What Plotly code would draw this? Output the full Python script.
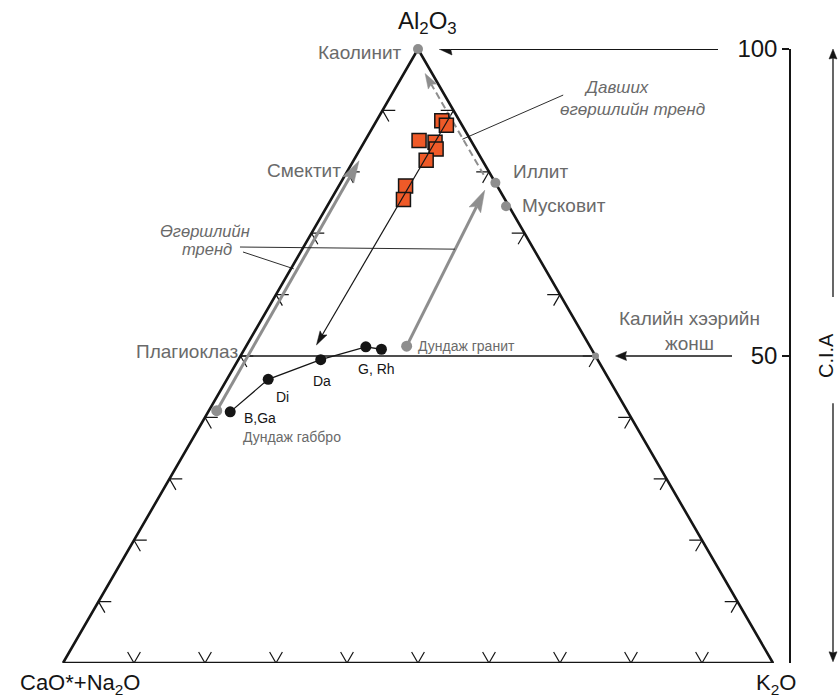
import math
import plotly.graph_objects as go

# ---------------------------------------------------------------------------
# A-CN-K compositions, molar %  (A = Al2O3, K = K2O, CN = CaO*+Na2O = 100-A-K)
# ---------------------------------------------------------------------------
sample_A = [88.3, 87.6, 85.1, 84.8, 83.7, 81.9, 77.7, 75.5]
sample_K = [9.2, 10.2, 7.6, 10.0, 10.7, 10.2, 9.4, 10.2]

rock_names = ["B,Ga", "Di", "Da", "G", "Rh"]
rock_A = [40.9, 46.2, 49.4, 51.5, 51.1]
rock_K = [3.1, 5.8, 11.6, 16.9, 19.3]

mineral_names = ["Каолинит", "Иллит", "Мусковит", "Калийн хээрийн<br>жонш", "Плагиоклаз"]
mineral_A = [100.0, 78.2, 74.4, 50.0, 50.0]
mineral_K = [0.0, 21.8, 25.2, 50.0, 0.0]

granite_A, granite_K = 51.6, 22.6
gabbro_A, gabbro_K = 41.1, 1.1

# weathering trends: (A, K) start -> (A, K) end
smectite_trend = [(41.1, 1.1), (81.8, 0.8)]
illite_trend = [(51.6, 22.6), (77.0, 20.9)]
advanced_trend = [(79.5, 19.5), (96.0, 3.0)]
sample_trend = [(89.0, 10.0), (51.8, 9.8)]

tick_steps = [10, 20, 30, 40, 50, 60, 70, 80, 90]
cia_ticks = [50, 100]

# ---------------------------------------------------------------------------
# page geometry
# ---------------------------------------------------------------------------
W, H = 838, 698
SIDE = 710          # triangle side in px
LEFT = 63           # left vertex, px from page edge
TOP, BOTTOM = 49, 35
SX = SIDE / 100.0
SY = (H - TOP - BOTTOM) / 100.0

BLACK = "#151515"
GRAY = "#8e8e8e"
TXT_GRAY = "#6a6a6a"
RED = "#EF5A28"
FONT = "Liberation Sans, Arial, sans-serif"


def xy(a, k):
    """ternary (A, K) -> plane coordinates (x, y)"""
    return k + a / 2.0, a


def xys(As, Ks):
    pts = [xy(a, k) for a, k in zip(As, Ks)]
    return [p[0] for p in pts], [p[1] for p in pts]


fig = go.Figure()


def line(xs, ys, color=BLACK, width=1.2, dash=None):
    fig.add_trace(go.Scatter(x=xs, y=ys, mode="lines",
                             line=dict(color=color, width=width, dash=dash),
                             hoverinfo="skip", showlegend=False, cliponaxis=False))


def arrow(tail, tip, color, width, head_len, head_w, dash=None, notch=0.18):
    """shaft plus filled head; tail/tip given in plane coordinates"""
    (sx, sy), (tx, ty) = tail, tip
    dx, dy = (tx - sx) * SX, (ty - sy) * SY
    n = math.hypot(dx, dy)
    ux, uy = dx / n, dy / n
    px, py = -uy, ux

    def back(along, side):
        return (tx + (-ux * along + px * side) / SX,
                ty + (-uy * along + py * side) / SY)

    p1 = back(head_len, head_w / 2)
    p2 = back(head_len * (1 - notch), 0)
    p3 = back(head_len, -head_w / 2)
    line([sx, p2[0]], [sy, p2[1]], color=color, width=width, dash=dash)
    fig.add_trace(go.Scatter(x=[tx, p1[0], p2[0], p3[0], tx],
                             y=[ty, p1[1], p2[1], p3[1], ty],
                             mode="lines", fill="toself", fillcolor=color,
                             line=dict(color=color, width=0.5),
                             hoverinfo="skip", showlegend=False, cliponaxis=False))


def tern_arrow(trend, **kw):
    (a0, k0), (a1, k1) = trend
    arrow(xy(a0, k0), xy(a1, k1), **kw)


# ---- triangle frame -------------------------------------------------------
fx, fy = xys([0, 100, 0, 0], [0, 0, 100, 0])
line(fx, fy, width=2.6)

# ---- chevron ticks on the three sides ------------------------------------
L = 1.8
cx, cy = [], []
for t in tick_steps:
    # left side (K = 0): arms along A-constant and CN-constant directions
    for a, k in [(t, L), (t, 0), (t - L, L)]:
        x, y = xy(a, k); cx.append(x); cy.append(y)
    cx.append(None); cy.append(None)
    # right side (CN = 0)
    for a, k in [(t, 100 - t - L), (t, 100 - t), (t - L, 100 - t)]:
        x, y = xy(a, k); cx.append(x); cy.append(y)
    cx.append(None); cy.append(None)
    # base (A = 0)
    for a, k in [(L, t), (0, t), (L, t - L)]:
        x, y = xy(a, k); cx.append(x); cy.append(y)
    cx.append(None); cy.append(None)
line(cx, cy, width=1.2)

# ---- plagioclase - K-feldspar join (CIA = 50) ----------------------------
jx, jy = xys([mineral_A[4], mineral_A[3]], [mineral_K[4], mineral_K[3]])
line(jx, jy, width=1.5)

# ---- weathering trends ----------------------------------------------------
tern_arrow(smectite_trend, color=GRAY, width=3, head_len=22, head_w=13)
tern_arrow(illite_trend, color=GRAY, width=3, head_len=22, head_w=13)
tern_arrow(advanced_trend, color=GRAY, width=2, head_len=15, head_w=10, dash="7px,4px")

# leader lines for the trend captions
lead_trend_1 = [(67.75, -8.95), (67.4, 21.5)]
lead_trend_2 = [(66.94, -8.12), (64.2, 0.4)]
lead_adv = [(92.5, 24.2), (85.3, 13.6)]
for (a0, k0), (a1, k1) in [lead_trend_1, lead_trend_2, lead_adv]:
    (x0, y0), (x1, y1) = xy(a0, k0), xy(a1, k1)
    line([x0, x1], [y0, y1], width=0.9)

# ---- igneous rocks --------------------------------------------------------
rx, ry = xys(rock_A, rock_K)
line(rx, ry, width=1.3)

# ---- reference minerals and averages (grey dots) -------------------------
mx, my = xys(mineral_A[:3], mineral_K[:3])
fig.add_trace(go.Scatter(x=mx, y=my, mode="markers",
                         marker=dict(size=10, color=GRAY),
                         hoverinfo="skip", showlegend=False, cliponaxis=False))
kx, ky = xy(mineral_A[3], mineral_K[3])
gx, gy = xy(granite_A, granite_K)
bx, by = xy(gabbro_A, gabbro_K)
fig.add_trace(go.Scatter(x=[gx, bx], y=[gy, by], mode="markers",
                         marker=dict(size=11, color=GRAY),
                         hoverinfo="skip", showlegend=False, cliponaxis=False))
fig.add_trace(go.Scatter(x=[kx], y=[ky], mode="markers",
                         marker=dict(size=7, color=GRAY),
                         hoverinfo="skip", showlegend=False, cliponaxis=False))

fig.add_trace(go.Scatter(x=rx, y=ry, mode="markers",
                         marker=dict(size=11, color=BLACK),
                         hoverinfo="skip", showlegend=False, cliponaxis=False))

# ---- studied samples -----------------------------------------------------
sx_, sy_ = xys(sample_A, sample_K)
fig.add_trace(go.Scatter(x=sx_, y=sy_, mode="markers",
                         marker=dict(symbol="square", size=14, color=RED,
                                     line=dict(color=BLACK, width=1.5)),
                         hoverinfo="skip", showlegend=False, cliponaxis=False))
tern_arrow(sample_trend, color=BLACK, width=1.2, head_len=14, head_w=8)

# ---- CIA scale on the right ----------------------------------------------
CIA_X = (790 - LEFT) / SX          # CIA axis line
CIA_X2 = (833 - LEFT) / SX         # double-headed CIA arrow
apex_x, apex_y = xy(100, 0)
arrow((CIA_X - 72 / SX, 100), (apex_x + 21 / SX, 100), BLACK, 1.8, 13, 12, notch=0.1)
arrow((CIA_X - 58 / SX, 50), (kx + 20 / SX, 50), BLACK, 1.5, 11, 9, notch=0.1)

arrow((CIA_X2, 59.6), (CIA_X2, 100), BLACK, 1.3, 10, 8, notch=0.1)
arrow((CIA_X2, 42.3), (CIA_X2, 0.2), BLACK, 1.3, 10, 8, notch=0.1)

fig.add_trace(go.Scatter(x=[CIA_X, CIA_X], y=[0, 100], mode="markers",
                         marker=dict(opacity=0), yaxis="y2",
                         hoverinfo="skip", showlegend=False))

# ---- labels ----------------------------------------------------------------
ann = []


def label(x, y, text, dx=0, dy=0, size=19, color=TXT_GRAY, xanchor="center", angle=0):
    ann.append(dict(x=x, y=y, xref="x", yref="y", text=text, showarrow=False,
                    xshift=dx, yshift=dy, xanchor=xanchor, yanchor="middle",
                    textangle=angle, borderpad=0,
                    font=dict(family=FONT, size=size, color=color)))


label(apex_x, apex_y, "Al<sub>2</sub>O<sub>3</sub>", dx=9, dy=27, size=24, color=BLACK)
bl = xy(0, 0)
br = xy(0, 100)
label(bl[0], bl[1], "CaO*+Na<sub>2</sub>O", dx=17, dy=-21, size=22, color=BLACK)
label(br[0], br[1], "K<sub>2</sub>O", dx=3, dy=-21, size=22, color=BLACK)

# minerals
label(mx[0], my[0], mineral_names[0], dx=-15, dy=-3, xanchor="right")
label(mx[1], my[1], mineral_names[1], dx=17, dy=11, xanchor="left")
label(mx[2], my[2], mineral_names[2], dx=15, dy=1, xanchor="left")
label(kx, ky, mineral_names[3], dx=94, dy=25)
px_, py_ = xy(mineral_A[4], mineral_K[4])
label(px_, py_, mineral_names[4], dx=-2, dy=5, xanchor="right")
smx, smy = xy(*smectite_trend[1])
label(smx, smy, "Смектит", dx=-17, dy=-10, xanchor="right")

label(gx, gy, "Дундаж гранит", dx=10, dy=0, size=14, xanchor="left")
label(rx[0], ry[0], "Дундаж габбро", dx=12, dy=-25, size=14, xanchor="left")

# rocks
label(rx[0], ry[0], rock_names[0], dx=13, dy=-6, size=14, color=BLACK, xanchor="left")
label(rx[1], ry[1], rock_names[1], dx=7, dy=-18, size=14, color=BLACK, xanchor="left")
label(rx[2], ry[2], rock_names[2], dx=-9, dy=-21, size=14, color=BLACK, xanchor="left")
label(rx[3], ry[3], rock_names[3] + ", " + rock_names[4], dx=-9, dy=-22, size=14,
      color=BLACK, xanchor="left")

# trend captions
t1x, t1y = xy(*lead_trend_1[0])
label(t1x, t1y, "<i>Өгөршлийн</i>", dx=-35, dy=16, size=16.5)
label(t1x, t1y, "<i>тренд</i>", dx=-33, dy=-2, size=16.5)
t2x, t2y = xy(*lead_adv[0])
label(t2x, t2y, "<i>Давших</i>", dx=53, dy=8, size=17)
label(t2x, t2y, "<i>өгөршлийн тренд</i>", dx=69, dy=-14, size=17)

label(CIA_X2, 50, "C.I.A", dx=-7, size=20, color=BLACK, angle=-90)

fig.update_layout(
    width=W, height=H,
    margin=dict(l=0, r=0, t=TOP, b=BOTTOM),
    paper_bgcolor="white", plot_bgcolor="white",
    showlegend=False,
    xaxis=dict(range=[-LEFT / SX, (W - LEFT) / SX], visible=False, domain=[0, 1]),
    yaxis=dict(range=[0, 100], visible=False),
    yaxis2=dict(range=[0, 100], overlaying="y", anchor="free",
                position=790 / W, side="left",
                showline=True, linecolor=BLACK, linewidth=1.5,
                ticks="outside", ticklen=7, tickwidth=1.5, tickcolor=BLACK,
                tickvals=cia_ticks, ticktext=[str(v) for v in cia_ticks],
                tickfont=dict(family=FONT, size=24, color=BLACK),
                showgrid=False, zeroline=False),
    annotations=ann,
)

fig.write_html("out.html")
